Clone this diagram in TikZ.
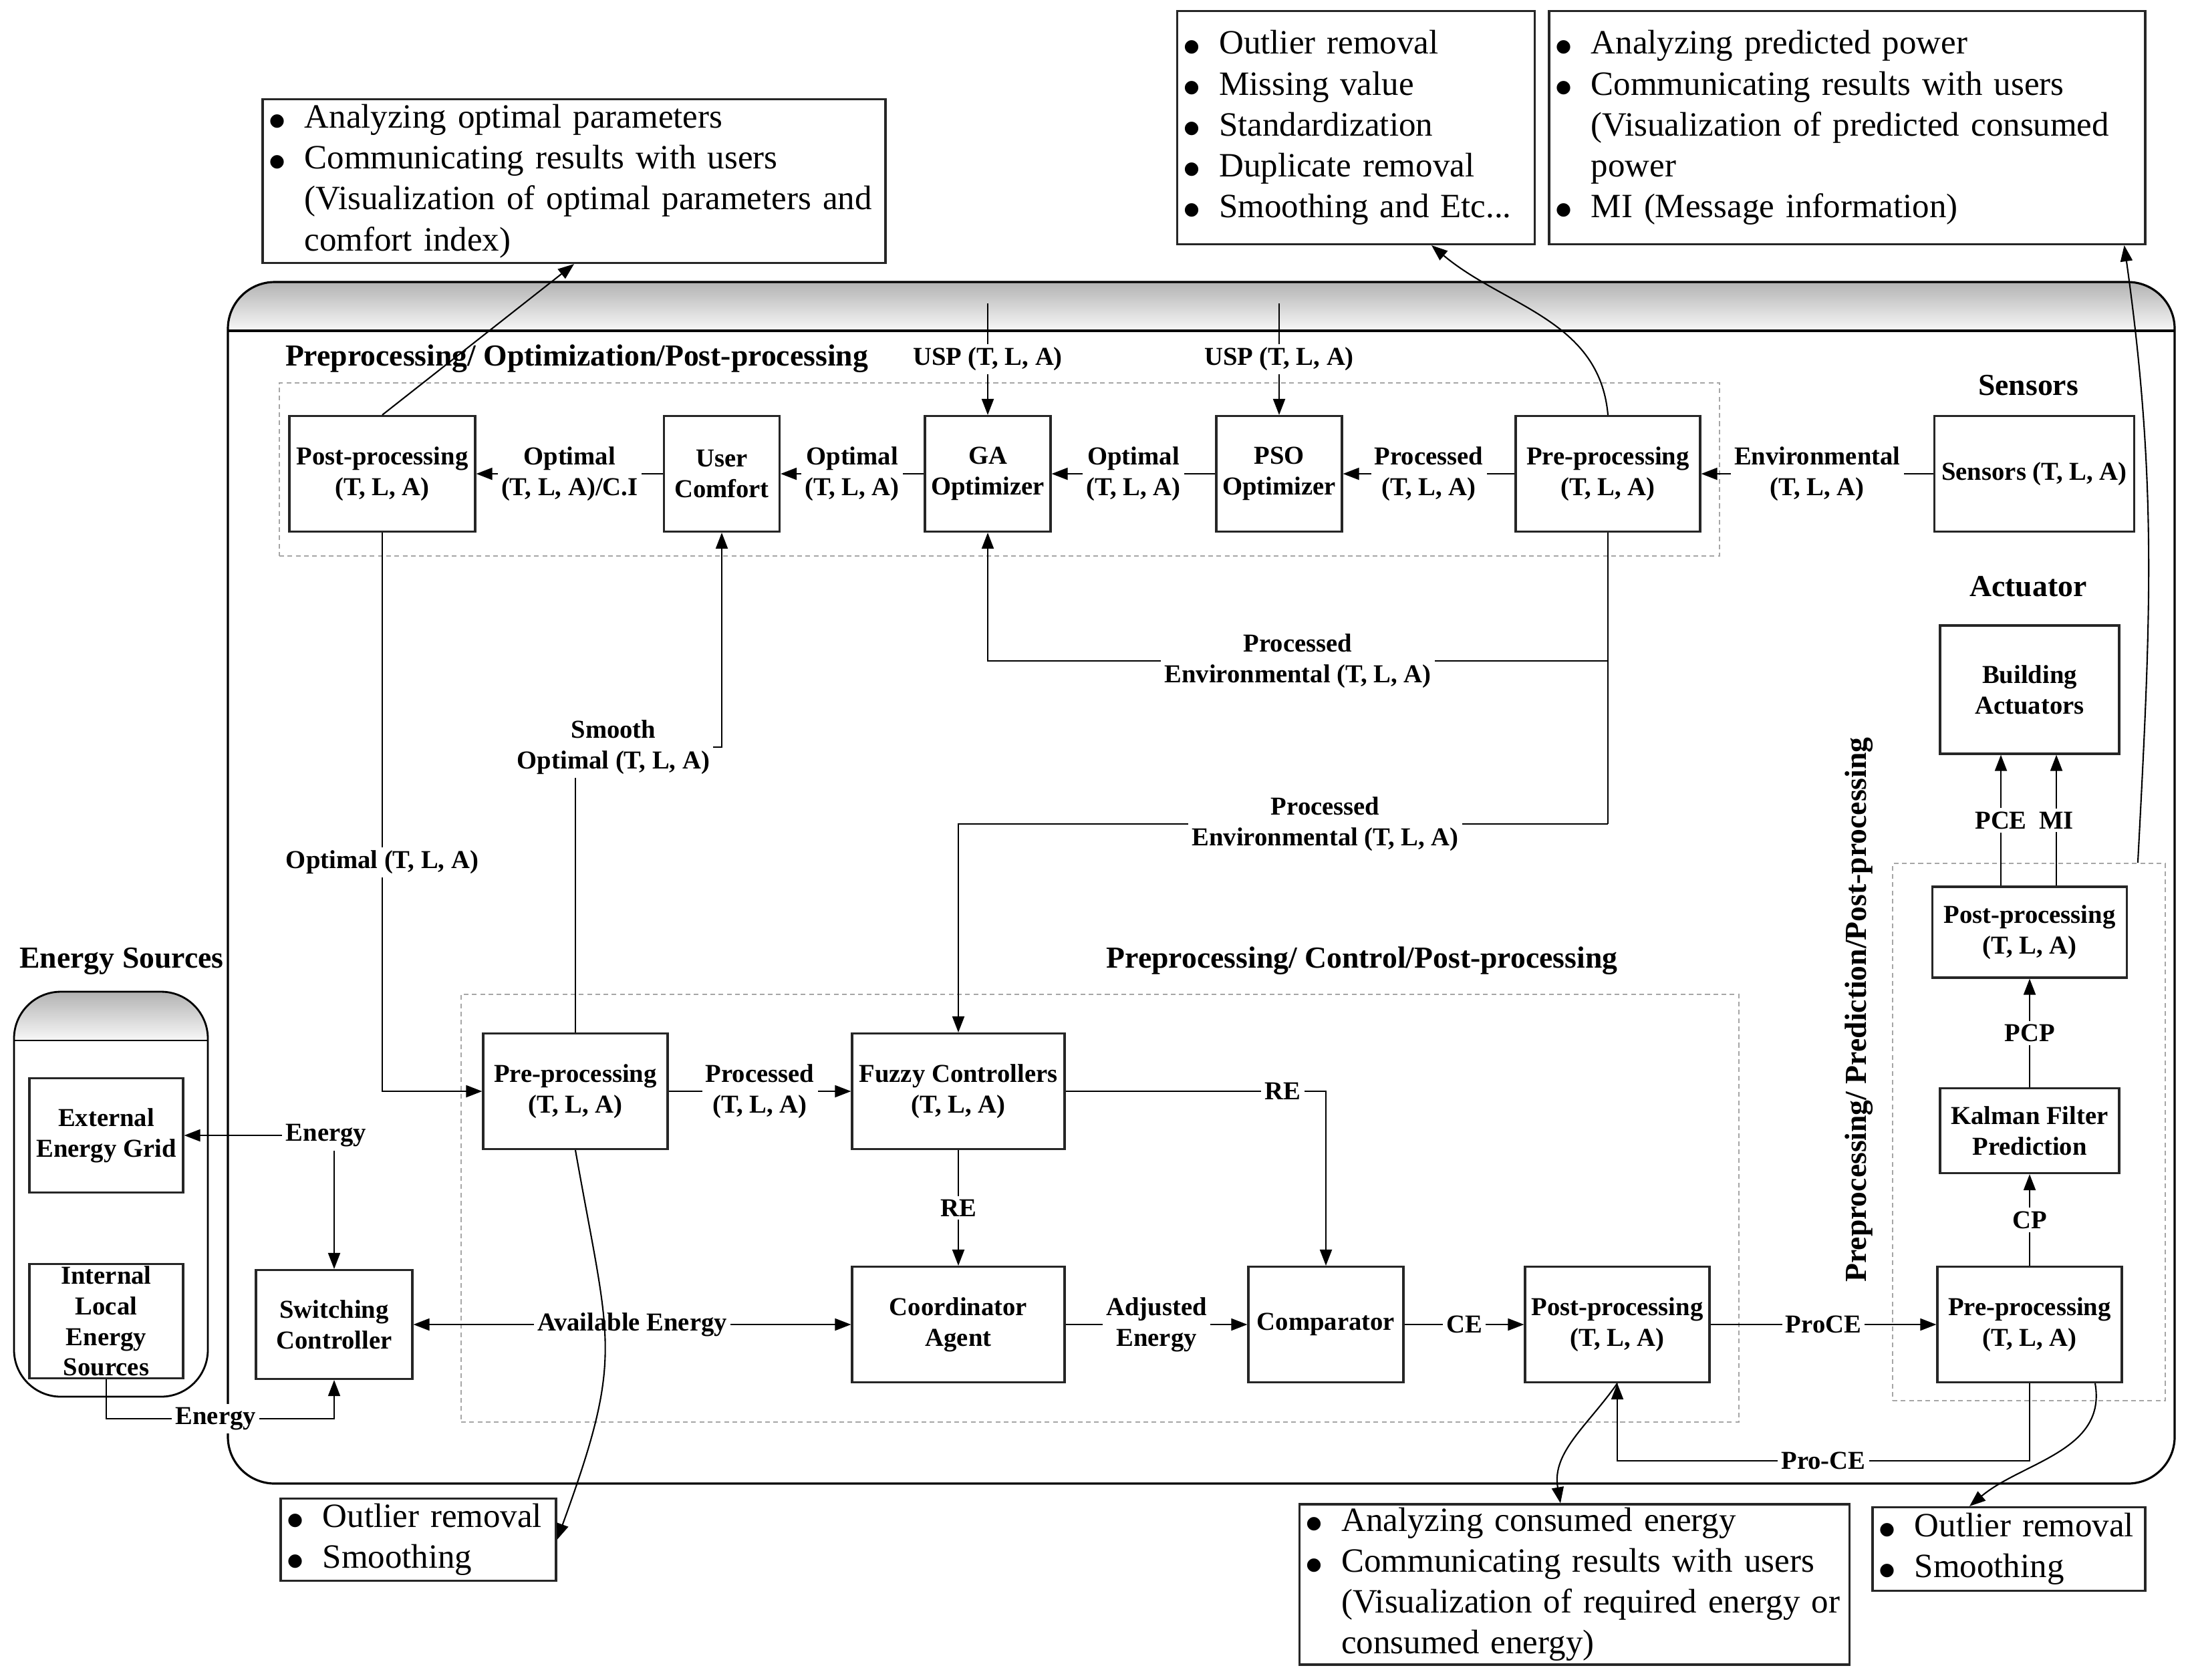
\documentclass[tikz,border=0pt]{standalone}
\usepackage{fontspec}
\setmainfont{Liberation Serif}
\newfontfamily\dotfont{DejaVu Sans}
\usetikzlibrary{arrows.meta, positioning, calc}

\tikzset{
  blk/.style={draw=black!85, line width=0.9pt, fill=white, align=center, inner sep=1pt,
    font=\bfseries\fontsize{11}{13}\selectfont},
  lbl/.style={fill=white, align=center, inner sep=1.5pt, font=\bfseries\fontsize{11}{13}\selectfont},
  ttl/.style={font=\bfseries\fontsize{13}{15}\selectfont},
  region/.style={draw=black!35, dashed, dash pattern=on 2pt off 1.5pt, line width=0.5pt},
  note/.style={draw=black!85, line width=0.9pt, align=left, inner xsep=1mm, inner ysep=0pt,
    font=\fontsize{14.5}{17.4}\selectfont},
  flow/.style={-{Triangle[length=2.4mm,width=1.8mm]}, line width=0.6pt},
  both/.style={{Triangle[length=2.4mm,width=1.8mm]}-{Triangle[length=2.4mm,width=1.8mm]}, line width=0.6pt},
  hdr/.style={top color=black!30, bottom color=black!3}
}
\newcommand{\itm}{\makebox[15pt][l]{\raisebox{1pt}{\dotfont\fontsize{7.5}{7.5}\selectfont ●}}}
\newcommand{\ind}{\makebox[15pt]{}}

\begin{document}
\begin{tikzpicture}
  \useasboundingbox (0,0) rectangle (32.77,-25.13);

  % main container with shaded header
  \begin{scope}
    \clip[rounded corners=0.7cm] (3.41,-4.22) rectangle (32.54,-22.20);
    \shade[hdr] (3.41,-4.22) rectangle (32.54,-4.95);
  \end{scope}
  \draw[line width=0.9pt, rounded corners=0.7cm] (3.41,-4.22) rectangle (32.54,-22.20);
  \draw[line width=0.9pt] (3.41,-4.95) -- (32.54,-4.95);

  % energy sources container
  \begin{scope}
    \clip[rounded corners=0.7cm] (0.21,-14.84) rectangle (3.11,-20.90);
    \shade[hdr] (0.21,-14.84) rectangle (3.11,-15.57);
  \end{scope}
  \draw[line width=0.8pt, rounded corners=0.7cm] (0.21,-14.84) rectangle (3.11,-20.90);
  \draw[line width=0.8pt] (0.21,-15.57) -- (3.11,-15.57);

  % dashed regions
  \node[region, minimum width=21.55cm, minimum height=2.59cm] (regTop) at (14.955,-7.025) {};
  \node[region, minimum width=19.12cm, minimum height=6.40cm] (regLow) at (16.46,-18.08) {};
  \node[region, minimum width=4.08cm, minimum height=8.04cm] (regPred) at (30.36,-16.94) {};

  % titles
  \node[ttl] at (8.63,-5.37) {Preprocessing/ Optimization/Post-processing};
  \node[ttl] at (20.38,-14.38) {Preprocessing/ Control/Post-processing};
  \node[ttl] at (30.35,-5.77) {Sensors};
  \node[ttl] at (30.35,-8.78) {Actuator};
  \node[ttl] at (1.82,-14.38) {Energy Sources};
  \node[ttl, rotate=90] at (27.82,-15.11) {Preprocessing/ Prediction/Post-processing};

  % optimization row
  \node[blk, minimum width=2.78cm, minimum height=1.73cm] (postT) at (5.72,-7.09) {Post-processing\\(T, L, A)};
  \node[blk, minimum width=1.73cm, minimum height=1.73cm] (comfort) at (10.80,-7.09) {User\\Comfort};
  \node[blk, minimum width=1.88cm, minimum height=1.73cm] (ga) at (14.78,-7.09) {GA\\Optimizer};
  \node[blk, minimum width=1.88cm, minimum height=1.73cm] (pso) at (19.14,-7.09) {PSO\\Optimizer};
  \node[blk, minimum width=2.76cm, minimum height=1.73cm] (preT) at (24.06,-7.09) {Pre-processing\\(T, L, A)};
  \node[blk, minimum width=2.99cm, minimum height=1.73cm] (sens) at (30.44,-7.09) {Sensors (T, L, A)};

  % control section
  \node[blk, minimum width=2.76cm, minimum height=1.73cm] (preL) at (8.61,-16.33) {Pre-processing\\(T, L, A)};
  \node[blk, minimum width=3.18cm, minimum height=1.73cm] (fuzzy) at (14.34,-16.33) {Fuzzy Controllers\\(T, L, A)};
  \node[blk, minimum width=3.18cm, minimum height=1.73cm] (coord) at (14.34,-19.82) {Coordinator\\Agent};
  \node[blk, minimum width=2.32cm, minimum height=1.73cm] (comp) at (19.84,-19.82) {Comparator};
  \node[blk, minimum width=2.76cm, minimum height=1.73cm] (postL) at (24.20,-19.82) {Post-processing\\(T, L, A)};
  \node[blk, minimum width=2.34cm, minimum height=1.63cm] (sw) at (5.00,-19.82) {Switching\\Controller};

  % prediction column
  \node[blk, minimum width=2.76cm, minimum height=1.73cm] (preR) at (30.37,-19.82) {Pre-processing\\(T, L, A)};
  \node[blk, minimum width=2.68cm, minimum height=1.27cm] (kalman) at (30.37,-16.92) {Kalman Filter\\Prediction};
  \node[blk, minimum width=2.91cm, minimum height=1.36cm] (postR) at (30.37,-13.95) {Post-processing\\(T, L, A)};
  \node[blk, minimum width=2.68cm, minimum height=1.92cm] (build) at (30.37,-10.32) {Building\\Actuators};

  % energy sources
  \node[blk, minimum width=2.30cm, minimum height=1.71cm] (grid) at (1.59,-16.99) {External\\Energy Grid};
  \node[blk, minimum width=2.30cm, minimum height=1.71cm, fill=none] (local) at (1.59,-19.77) {Internal\\Local\\Energy\\Sources};

  % notes
  \node[note, minimum width=9.32cm, minimum height=2.45cm, text width=9.12cm] (noteOpt) at (8.59,-2.71)
    {\itm Analyzing optimal parameters\\
     \itm Communicating results with users\\
     \ind (Visualization of optimal parameters and\\
     \ind comfort index)};
  \node[note, minimum width=5.35cm, minimum height=3.49cm, text width=5.15cm] (notePre) at (20.29,-1.91)
    {\itm Outlier removal\\
     \itm Missing value\\
     \itm Standardization\\
     \itm Duplicate removal\\
     \itm Smoothing and Etc...};
  \node[note, minimum width=8.92cm, minimum height=3.49cm, text width=8.72cm] (notePred) at (27.64,-1.91)
    {\itm Analyzing predicted power\\
     \itm Communicating results with users\\
     \ind (Visualization of predicted consumed\\
     \ind power\\
     \itm MI (Message information)};
  \node[note, minimum width=4.12cm, minimum height=1.23cm, text width=3.92cm] (noteLow1) at (6.26,-23.04)
    {\itm Outlier removal\\
     \itm Smoothing};
  \node[note, minimum width=8.23cm, minimum height=2.40cm, text width=8.03cm] (noteCons) at (23.56,-23.71)
    {\itm Analyzing consumed energy\\
     \itm Communicating results with users\\
     \ind (Visualization of required energy or\\
     \ind consumed energy)};
  \node[note, minimum width=4.08cm, minimum height=1.25cm, text width=3.88cm] (noteLow2) at (30.06,-23.18)
    {\itm Outlier removal\\
     \itm Smoothing};

  % helper levels
  \coordinate (hTop) at (0,-4.54);
  \coordinate (hProcA) at (0,-9.89);
  \coordinate (hProcB) at (0,-12.33);
  \coordinate (hSmooth) at (0,-11.18);
  \coordinate (hProCE) at (0,-21.86);
  \coordinate (hEn) at (0,-21.23);

  % optimization flow
  \draw[flow] (sens) -- node[lbl]{Environmental\\(T, L, A)} (preT);
  \draw[flow] (preT) -- node[lbl]{Processed\\(T, L, A)} (pso);
  \draw[flow] (pso) -- node[lbl]{Optimal\\(T, L, A)} (ga);
  \draw[flow] (ga) -- node[lbl]{Optimal\\(T, L, A)} (comfort);
  \draw[flow] (comfort) -- node[lbl]{Optimal\\(T, L, A)/C.I} (postT);
  \draw[flow] (ga.north |- hTop) -- node[lbl]{USP (T, L, A)} (ga);
  \draw[flow] (pso.north |- hTop) -- node[lbl]{USP (T, L, A)} (pso);

  % processed environmental
  \draw[line width=0.6pt] (preT.south) -- (preT.south |- hProcB);
  \draw[flow] (preT.south |- hProcA) -- node[lbl]{Processed\\Environmental (T, L, A)} (ga.south |- hProcA) -- (ga.south);
  \draw[flow] (preT.south |- hProcB) -- node[lbl, pos=0.435]{Processed\\Environmental (T, L, A)} (fuzzy.north |- hProcB) -- (fuzzy.north);

  % optimal / smooth optimal
  \draw[flow] (postT.south) |- node[lbl, pos=0.295]{Optimal (T, L, A)} (preL.west);
  \draw[flow] (preL.north) -- (preL.north |- hSmooth) -- node[lbl, pos=0.26]{Smooth\\Optimal (T, L, A)} (comfort.south |- hSmooth) -- (comfort.south);

  % control flow
  \draw[flow] (preL) -- node[lbl]{Processed\\(T, L, A)} (fuzzy);
  \draw[flow] (fuzzy.east) -| node[lbl, pos=0.417]{RE} (comp.north);
  \draw[flow] (fuzzy) -- node[lbl]{RE} (coord);
  \draw[flow] (coord) -- node[lbl]{Adjusted\\Energy} (comp);
  \draw[flow] (comp) -- node[lbl]{CE} (postL);
  \draw[flow] (postL) -- node[lbl]{ProCE} (preR);
  \draw[flow] (preR.south) -- (preR.south |- hProCE) -| node[lbl, pos=0.25]{Pro-CE} (postL.south);
  \draw[both] (sw) -- node[lbl]{Available Energy} (coord);

  % prediction flow
  \draw[flow] (preR) -- node[lbl]{CP} (kalman);
  \draw[flow] (kalman) -- node[lbl]{PCP} (postR);
  \draw[flow] ([xshift=-0.43cm]postR.north) -- node[lbl]{PCE} ([xshift=-0.43cm]build.south);
  \draw[flow] ([xshift=0.40cm]postR.north) -- node[lbl]{MI} ([xshift=0.40cm]build.south);

  % energy
  \node[lbl] (enA) at (4.88,-16.99) {Energy};
  \draw[flow] (enA) -- (grid);
  \draw[flow] (enA.south -| sw.north) -- (sw.north);
  \draw[flow] (local.south) -- (local.south |- hEn) -| node[lbl, pos=0.24]{Energy} (sw.south);

  % links to notes
  \draw[flow] (postT.north) -- (noteOpt.south);
  \draw[flow] (preT.north) to[out=95,in=-40] ([xshift=1.13cm]notePre.south);
  \draw[flow] ([xshift=-0.42cm]regPred.north east) to[out=87,in=-82] ([xshift=-0.33cm]notePred.south east);
  \draw[flow] (preL.south) to[out=-80,in=70,looseness=1.3] (noteLow1.east);
  \draw[flow] (postL.south) to[out=-125,in=100] ([xshift=-0.21cm]noteCons.north);
  \draw[flow] ([xshift=0.98cm]preR.south) to[out=-80,in=40] ([xshift=-0.59cm]noteLow2.north);
\end{tikzpicture}
\end{document}
